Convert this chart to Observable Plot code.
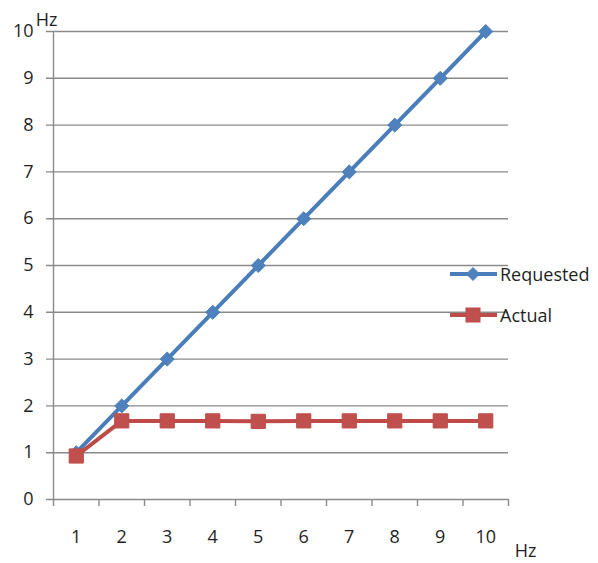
<!DOCTYPE html>
<html>
<head>
<meta charset="utf-8">
<script src="https://cdn.jsdelivr.net/npm/d3@7"></script>
<script src="https://cdn.jsdelivr.net/npm/@observablehq/plot@0.6"></script>
<style>
  html, body { margin: 0; padding: 0; background: #fff; }
  #wrap { position: relative; width: 598px; height: 563px; font-family: "Open Sans", Lato, sans-serif; }
  #legend { position: absolute; left: 449px; top: 262px; font-size: 18px; color: #1f1f1f; }
  .row { display: flex; align-items: center; height: 24px; margin-bottom: 17px; }
  .row svg { display: block; margin-right: 2px; }
</style>
</head>
<body>
<div id="wrap"></div>
<script>
// ---- data ----
const categories = [1, 2, 3, 4, 5, 6, 7, 8, 9, 10];
const requested = [1, 2, 3, 4, 5, 6, 7, 8, 9, 10];
const actual = [0.93, 1.68, 1.68, 1.68, 1.67, 1.68, 1.68, 1.68, 1.68, 1.68];
const yTicks = [0, 1, 2, 3, 4, 5, 6, 7, 8, 9, 10];
const xTickPositions = [0.5, 1.5, 2.5, 3.5, 4.5, 5.5, 6.5, 7.5, 8.5, 9.5, 10.5];
const seriesNames = ["Requested", "Actual"];
const axisUnit = "Hz";

// ---- styles ----
const blueLine = "#4A7EBB", blueFill = "#4F81BD";
const redLine = "#BE4B48", redFill = "#C0504D";
const gridColor = "#8a8a8a";
const textColor = "#1f1f1f";

const diamond = {
  draw(ctx, size) {
    const a = Math.sqrt(size / 2);
    ctx.moveTo(0, -a); ctx.lineTo(a, 0); ctx.lineTo(0, a); ctx.lineTo(-a, 0); ctx.closePath();
  }
};

const reqData = categories.map((c, i) => ({x: c, y: requested[i]}));
const actData = categories.map((c, i) => ({x: c, y: actual[i]}));

const chart = Plot.plot({
  width: 598,
  height: 563,
  marginLeft: 53,
  marginRight: 90,
  marginTop: 31,
  marginBottom: 64,
  style: {fontFamily: "'Open Sans', Lato, sans-serif", fontSize: "18px", color: textColor, background: "#fff"},
  x: {type: "linear", domain: [0.5, 10.5], axis: null},
  y: {type: "linear", domain: [0, 10], axis: null},
  marks: [
    // gridlines + y tick marks
    Plot.ruleY(yTicks, {y: d => d, stroke: gridColor, strokeWidth: 1.4, insetLeft: -7}),
    // y axis line
    Plot.ruleX([0.5], {x: d => d, stroke: gridColor, strokeWidth: 1.4}),
    // x tick marks
    Plot.ruleX(xTickPositions, {x: d => d, y1: 0, y2: 0, insetBottom: -7, stroke: gridColor, strokeWidth: 1.4}),
    // y tick labels
    Plot.text(yTicks, {x: 0.5, y: d => d, text: d => String(d), textAnchor: "end", dx: -20, fill: textColor}),
    // x tick labels
    Plot.text(categories, {x: d => d, y: 0, text: d => String(d), dy: 38, fill: textColor}),
    // unit labels
    Plot.text([axisUnit], {frameAnchor: "top-left", text: d => d, textAnchor: "middle", lineAnchor: "middle", dx: -7, dy: -11, fill: textColor}),
    Plot.text([axisUnit], {frameAnchor: "bottom-right", text: d => d, textAnchor: "middle", lineAnchor: "middle", dx: 17, dy: 52, fill: textColor}),
    // Requested
    Plot.line(reqData, {x: "x", y: "y", stroke: blueLine, strokeWidth: 4}),
    Plot.dot(reqData, {x: "x", y: "y", symbol: diamond, r: 5.6, fill: blueFill, stroke: blueLine, strokeWidth: 1}),
    // Actual
    Plot.line(actData, {x: "x", y: "y", stroke: redLine, strokeWidth: 4}),
    Plot.dot(actData, {x: "x", y: "y", symbol: "square", r: 8, fill: redFill, stroke: redLine, strokeWidth: 1})
  ]
});

const wrap = document.getElementById("wrap");
wrap.appendChild(chart);

// legend
const legend = document.createElement("div");
legend.id = "legend";
const items = [
  {name: seriesNames[0], line: blueLine, fill: blueFill, shape: "diamond"},
  {name: seriesNames[1], line: redLine, fill: redFill, shape: "square"}
];
for (const it of items) {
  const row = document.createElement("div");
  row.className = "row";
  const marker = it.shape === "diamond"
    ? `<path d="M24,5.5 L30.5,12 L24,18.5 L17.5,12 Z" fill="${it.fill}" stroke="${it.line}"/>`
    : `<rect x="17" y="5" width="14" height="14" fill="${it.fill}" stroke="${it.line}"/>`;
  row.innerHTML = `<svg width="49" height="24"><line x1="1" x2="48" y1="12" y2="12" stroke="${it.line}" stroke-width="4"/>${marker}</svg><span>${it.name}</span>`;
  legend.appendChild(row);
}
wrap.appendChild(legend);
</script>
</body>
</html>
